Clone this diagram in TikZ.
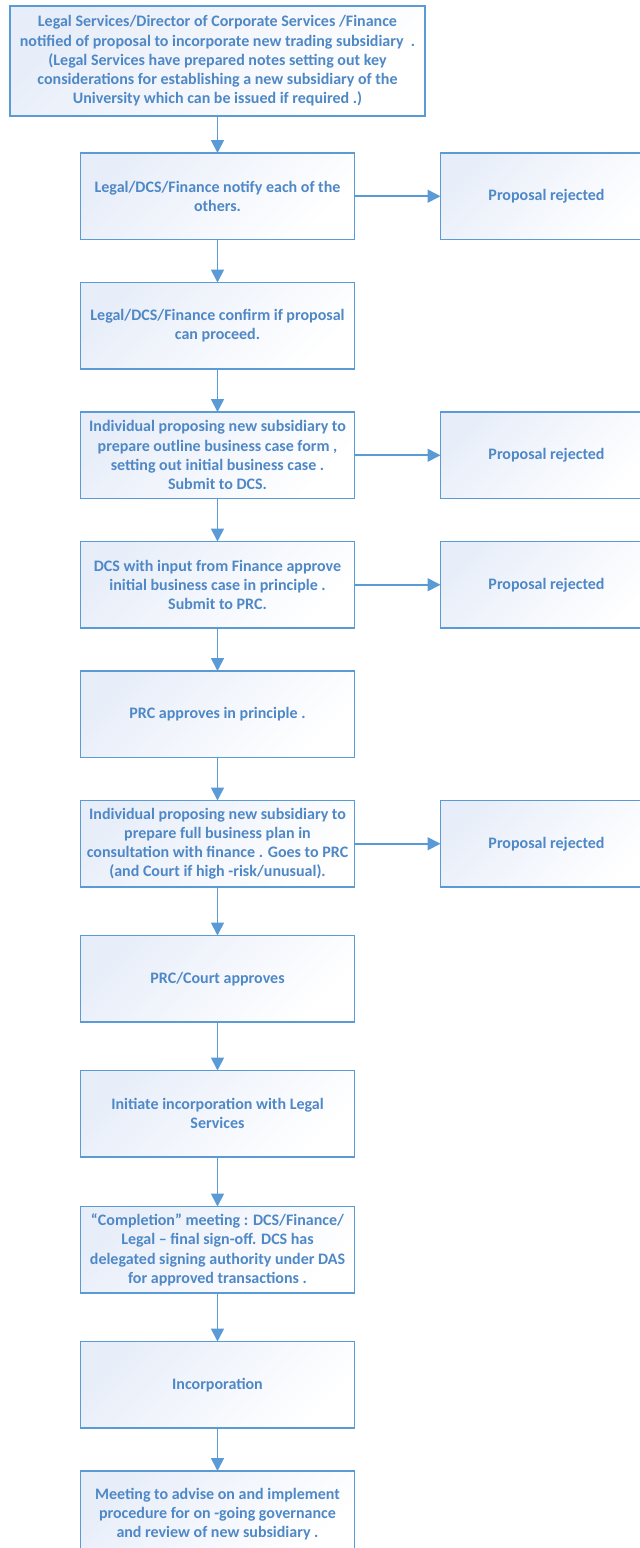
\documentclass[tikz,border=0pt]{standalone}
\usepackage{fontspec}
\setmainfont{Carlito}
\usetikzlibrary{arrows.meta, positioning}
\definecolor{flowBlue}{RGB}{91, 155, 213}
\definecolor{flowText}{RGB}{79, 136, 198}
\definecolor{flowTint}{RGB}{232, 238, 249}

\begin{document}
\begin{tikzpicture}[
  x=1pt, y=1pt,
  stage/.style={
    rectangle, draw=flowBlue, line width=1.4pt, outer sep=0pt,
    top color=flowTint, bottom color=white, shading angle=45,
    minimum width=274pt, minimum height=86.5pt, inner sep=1pt,
    align=center, text=flowText,
    font=\fontsize{16}{19.3}\selectfont\bfseries
  },
  reject/.style={stage, minimum width=212pt},
  flow/.style={->, draw=flowBlue, line width=1.7pt},
  >={Triangle[length=13pt, width=13pt]}, node distance=43pt
]
\useasboundingbox (0,0) rectangle (640,-1548);
\clip (0,0) rectangle (640,-1548);

\node[stage, minimum width=415pt, minimum height=110pt] (notified) at (217.5,-61)
  {Legal Services/Director of Corporate Services /Finance\\
   notified of proposal to incorporate new trading subsidiary\ \ .\\
   (Legal Services have prepared notes setting out key\\
   considerations for establishing a new subsidiary of the\\
   University which can be issued if required .)};
\node[stage, below=37pt of notified] (notify) {Legal/DCS/Finance notify each of the\\ others.};
\node[reject, right=86pt of notify] (rejectA) {Proposal rejected};
\node[stage, below=of notify] (confirm) {Legal/DCS/Finance confirm if proposal\\ can proceed.};
\node[stage, below=of confirm] (outline)
  {Individual proposing new subsidiary to\\ prepare outline business case form ,\\
   setting out initial business case .\\ Submit to DCS.};
\node[reject, right=86pt of outline] (rejectB) {Proposal rejected};
\node[stage, below=of outline] (initial)
  {DCS with input from Finance approve\\ initial business case in principle .\\ Submit to PRC.};
\node[reject, right=86pt of initial] (rejectC) {Proposal rejected};
\node[stage, below=of initial] (principle) {PRC approves in principle .};
\node[stage, below=of principle] (fullplan)
  {Individual proposing new subsidiary to\\ prepare full business plan in\\
   consultation with finance . Goes to PRC\\ (and Court if high -risk/unusual).};
\node[reject, right=86pt of fullplan] (rejectD) {Proposal rejected};
\node[stage, below=48.5pt of fullplan] (court) {PRC/Court approves};
\node[stage, below=48.5pt of court] (initiate) {Initiate incorporation with Legal\\ Services};
\node[stage, below=49.5pt of initiate] (completion)
  {“Completion” meeting : DCS/Finance/\\ Legal – final sign-off. DCS has\\
   delegated signing authority under DAS\\ for approved transactions .};
\node[stage, below=48.5pt of completion] (incorp) {Incorporation};
\node[stage, below=of incorp] (governance)
  {Meeting to advise on and implement\\ procedure for on -going governance\\
   and review of new subsidiary .};

% main line
\draw[flow] (notified) -- (notify);
\draw[flow] (notify) -- (confirm);
\draw[flow] (confirm) -- (outline);
\draw[flow] (outline) -- (initial);
\draw[flow] (initial) -- (principle);
\draw[flow] (principle) -- (fullplan);
\draw[flow] (fullplan) -- (court);
\draw[flow] (court) -- (initiate);
\draw[flow] (initiate) -- (completion);
\draw[flow] (completion) -- (incorp);
\draw[flow] (incorp) -- (governance);

% rejections
\draw[flow] (notify) -- (rejectA);
\draw[flow] (outline) -- (rejectB);
\draw[flow] (initial) -- (rejectC);
\draw[flow] (fullplan) -- (rejectD);
\end{tikzpicture}
\end{document}
